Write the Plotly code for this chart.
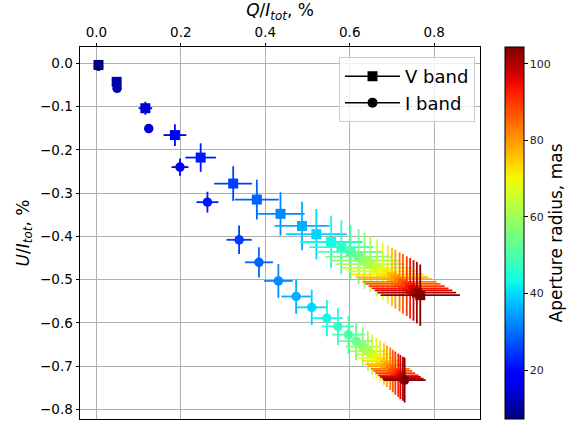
import numpy as np
import plotly.graph_objects as go

# Aperture radius (mas) for each measurement
aperture = [7.2, 10.8, 14.4, 18.0, 21.6, 25.2, 28.8, 32.4, 36.0, 39.6, 43.2, 46.8, 50.4, 54.0,
            57.6, 61.2, 64.8, 68.4, 72.0, 75.6, 79.2, 82.8, 86.4, 90.0, 93.6, 97.2, 100.8, 104.4]

# V band
v_q = [0.005, 0.048, 0.116, 0.186, 0.247, 0.324, 0.380, 0.436, 0.487, 0.521, 0.556, 0.580, 0.602, 0.621,
       0.635, 0.649, 0.665, 0.678, 0.690, 0.700, 0.708, 0.718, 0.726, 0.735, 0.743, 0.751, 0.759, 0.767]
v_u = [-0.004, -0.043, -0.104, -0.166, -0.218, -0.278, -0.315, -0.348, -0.376, -0.395, -0.413, -0.425,
       -0.436, -0.447, -0.456, -0.464, -0.473, -0.481, -0.488, -0.494, -0.499, -0.505, -0.510, -0.515,
       -0.520, -0.525, -0.530, -0.536]
v_qerr = [0.0, 0.003, 0.016, 0.027, 0.036, 0.045, 0.052, 0.057, 0.065, 0.072, 0.074, 0.076, 0.077, 0.079,
          0.080, 0.081, 0.083, 0.084, 0.085, 0.086, 0.087, 0.088, 0.089, 0.090, 0.091, 0.092, 0.093, 0.094]
v_uerr = [0.0, 0.003, 0.015, 0.025, 0.033, 0.040, 0.046, 0.050, 0.056, 0.058, 0.061, 0.062, 0.063, 0.064,
          0.065, 0.065, 0.066, 0.066, 0.067, 0.067, 0.068, 0.068, 0.069, 0.069, 0.070, 0.070, 0.071, 0.071]

# I band
i_q = [0.005, 0.049, 0.124, 0.198, 0.263, 0.338, 0.385, 0.431, 0.473, 0.510, 0.546, 0.572, 0.597, 0.615,
       0.631, 0.643, 0.653, 0.663, 0.672, 0.681, 0.688, 0.696, 0.702, 0.708, 0.715, 0.720, 0.726, 0.730]
i_u = [-0.007, -0.058, -0.151, -0.240, -0.321, -0.408, -0.460, -0.503, -0.539, -0.564, -0.589, -0.608,
       -0.627, -0.642, -0.655, -0.665, -0.673, -0.681, -0.688, -0.695, -0.700, -0.706, -0.711, -0.716,
       -0.721, -0.725, -0.729, -0.732]
i_qerr = [0.0, 0.002, 0.008, 0.020, 0.026, 0.030, 0.033, 0.034, 0.035, 0.036, 0.037, 0.038, 0.039, 0.040,
          0.041, 0.042, 0.042, 0.043, 0.044, 0.044, 0.045, 0.046, 0.046, 0.047, 0.048, 0.048, 0.049, 0.050]
i_uerr = [0.0, 0.002, 0.008, 0.020, 0.024, 0.033, 0.035, 0.039, 0.040, 0.041, 0.042, 0.043, 0.044, 0.044,
          0.045, 0.046, 0.046, 0.047, 0.047, 0.048, 0.048, 0.049, 0.049, 0.050, 0.050, 0.051, 0.051, 0.052]

x_ticks = [0.0, 0.2, 0.4, 0.6, 0.8]
y_ticks = [0.0, -0.1, -0.2, -0.3, -0.4, -0.5, -0.6, -0.7, -0.8]
cbar_ticks = [20, 40, 60, 80, 100]

# matplotlib "jet" colormap
_R = ([0, 0.35, 0.66, 0.89, 1], [0, 0, 1, 1, 0.5])
_G = ([0, 0.125, 0.375, 0.64, 0.91, 1], [0, 0, 1, 1, 0, 0])
_B = ([0, 0.11, 0.34, 0.65, 1], [0.5, 1, 1, 0, 0])


def jet(t):
    r = np.interp(t, *_R)
    g = np.interp(t, *_G)
    b = np.interp(t, *_B)
    return "rgb(%d,%d,%d)" % (round(r * 255), round(g * 255), round(b * 255))


cmin, cmax = min(aperture), max(aperture)
colorscale = [[s, jet(s)] for s in np.linspace(0, 1, 41)]

fig = go.Figure()


def add_series(qs, us, qe, ue, symbol, size):
    for q, u, eq, eu, a in zip(qs, us, qe, ue, aperture):
        c = jet((a - cmin) / (cmax - cmin))
        fig.add_trace(go.Scatter(
            x=[q], y=[u], mode="markers", showlegend=False, hoverinfo="skip",
            marker=dict(symbol=symbol, size=size, color=c, line=dict(width=0)),
            error_x=dict(type="data", array=[eq], visible=True, color=c, thickness=1.8, width=0),
            error_y=dict(type="data", array=[eu], visible=True, color=c, thickness=1.8, width=0),
        ))


add_series(v_q, v_u, v_qerr, v_uerr, "square", 10)
add_series(i_q, i_u, i_qerr, i_uerr, "circle", 9.5)

# legend entries
fig.add_trace(go.Scatter(x=[None], y=[None], mode="lines+markers", name="V band",
                         line=dict(color="black", width=1.5),
                         marker=dict(symbol="square", size=10, color="black")))
fig.add_trace(go.Scatter(x=[None], y=[None], mode="lines+markers", name="I band",
                         line=dict(color="black", width=1.5),
                         marker=dict(symbol="circle", size=10, color="black")))

# colorbar carrier
fig.add_trace(go.Scatter(x=[None], y=[None], mode="markers", showlegend=False,
                         marker=dict(color=[cmin], cmin=cmin, cmax=cmax, colorscale=colorscale,
                                     showscale=True,
                                     colorbar=dict(
                                         x=1.0616, xanchor="left", xpad=0, ypad=0,
                                         y=0.5, yanchor="middle", len=1, lenmode="fraction",
                                         thickness=19, thicknessmode="pixels",
                                         outlinecolor="black", outlinewidth=1,
                                         tickvals=cbar_ticks, ticks="outside", ticklen=3.5,
                                         tickcolor="black",
                                         tickfont=dict(family="DejaVu Sans", size=11, color="#222"),
                                         title=dict(text="Aperture radius, mas", side="right",
                                                    font=dict(family="DejaVu Sans", size=17, color="black")),
                                     ))))

axis_common = dict(showgrid=True, gridcolor="#b0b0b0", gridwidth=0.8, zeroline=False,
                   showline=True, linecolor="black", linewidth=1, mirror=True,
                   ticks="outside", ticklen=3.5, tickcolor="black",
                   tickfont=dict(family="DejaVu Sans", size=13.5, color="black"))

fig.update_layout(
    width=574, height=428,
    margin=dict(l=80, r=93, t=46, b=8),
    paper_bgcolor="white", plot_bgcolor="white",
    font=dict(family="DejaVu Sans", color="black"),
    xaxis=dict(side="top", range=[-0.0388, 0.9085], tickvals=x_ticks, tickformat=".1f",
               title=dict(text="<i>Q</i>/<i>I</i><sub><i>tot</i></sub>, %", standoff=4,
                          font=dict(size=17)),
               **axis_common),
    yaxis=dict(range=[-0.822, 0.0375], tickvals=y_ticks, tickformat=".1f",
               title=dict(text="<i>U</i>/<i>I</i><sub><i>tot</i></sub>, %", standoff=6,
                          font=dict(size=17)),
               **axis_common),
    legend=dict(x=0.9875, y=0.973, xanchor="right", yanchor="top",
                bgcolor="rgba(255,255,255,0.8)", bordercolor="#cccccc", borderwidth=1,
                font=dict(family="DejaVu Sans", size=18), itemwidth=55,
                tracegroupgap=4),
    showlegend=True,
)

fig.write_html("out.html", config={"displayModeBar": False},
               post_script="document.body.style.margin='0px';document.body.style.overflow='hidden';")
